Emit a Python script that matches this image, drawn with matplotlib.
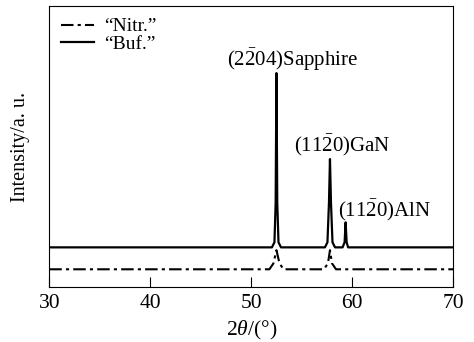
import numpy as np
from matplotlib import pyplot as plt

plt.rcParams['font.family'] = 'Liberation Serif'
plt.rcParams['mathtext.fontset'] = 'custom'
plt.rcParams['mathtext.rm'] = 'Liberation Serif'
plt.rcParams['mathtext.it'] = 'Liberation Serif:italic'

# Buffer-layer scan (solid)
buf_x = [30, 52.05, 52.3, 52.42, 52.5, 52.58, 52.7, 52.95,
         57.3, 57.55, 57.7, 57.8, 57.9, 58.05, 58.3,
         59.05, 59.25, 59.35, 59.45, 59.6, 70]
buf_y = [14.2, 14.2, 16.0, 30.0, 76.2, 30.0, 16.0, 14.2,
         14.2, 16.0, 30.0, 45.6, 30.0, 16.0, 14.2,
         14.2, 16.0, 23.1, 16.0, 14.2, 14.2]

# Nitridation scan (dash-dot)
nitr_x = [30, 51.8, 52.2, 52.5, 52.8, 53.2,
          57.2, 57.6, 57.8, 58.0, 58.4, 70]
nitr_y = [6.4, 6.4, 8.5, 13.2, 8.5, 6.4,
          6.4, 8.5, 13.2, 8.5, 6.4, 6.4]

x_ticks = [30, 40, 50, 60, 70]

fig, ax = plt.subplots(figsize=(4.74, 3.42), dpi=100)
fig.subplots_adjust(left=0.104, right=0.956, top=0.982, bottom=0.16)

ax.plot(nitr_x, nitr_y, color='black', lw=1.5, dashes=(6, 2, 1.5, 2), label='\u201cNitr.\u201d')
ax.plot(buf_x, buf_y, color='black', lw=1.6, label='\u201cBuf.\u201d')

ax.set_xlim(30, 70)
ax.set_ylim(0, 100)
ax.set_xticks(x_ticks)
ax.set_yticks([])
ax.tick_params(axis='x', direction='in', length=7, labelsize=15.5, pad=5)

ax.set_xlabel(r'2$\theta$/(°)', fontsize=15.5, labelpad=4)
ax.set_ylabel('Intensity/a. u.', fontsize=14.5, labelpad=14)

ax.text(54.06, 81, r'(2$\bar{\mathrm{2}}$04)Sapphire', fontsize=15, ha='center', va='center')
ax.text(59.0, 50.5, r'(11$\bar{\mathrm{2}}$0)GaN', fontsize=15, ha='center', va='center')
ax.text(63.2, 27.4, r'(11$\bar{\mathrm{2}}$0)AlN', fontsize=15, ha='center', va='center')

ax.legend(loc='upper left', frameon=False, fontsize=14, handlelength=1.7,
          handletextpad=0.5, labelspacing=0.0, borderaxespad=0.2)

fig.savefig('out.png', dpi=100)
